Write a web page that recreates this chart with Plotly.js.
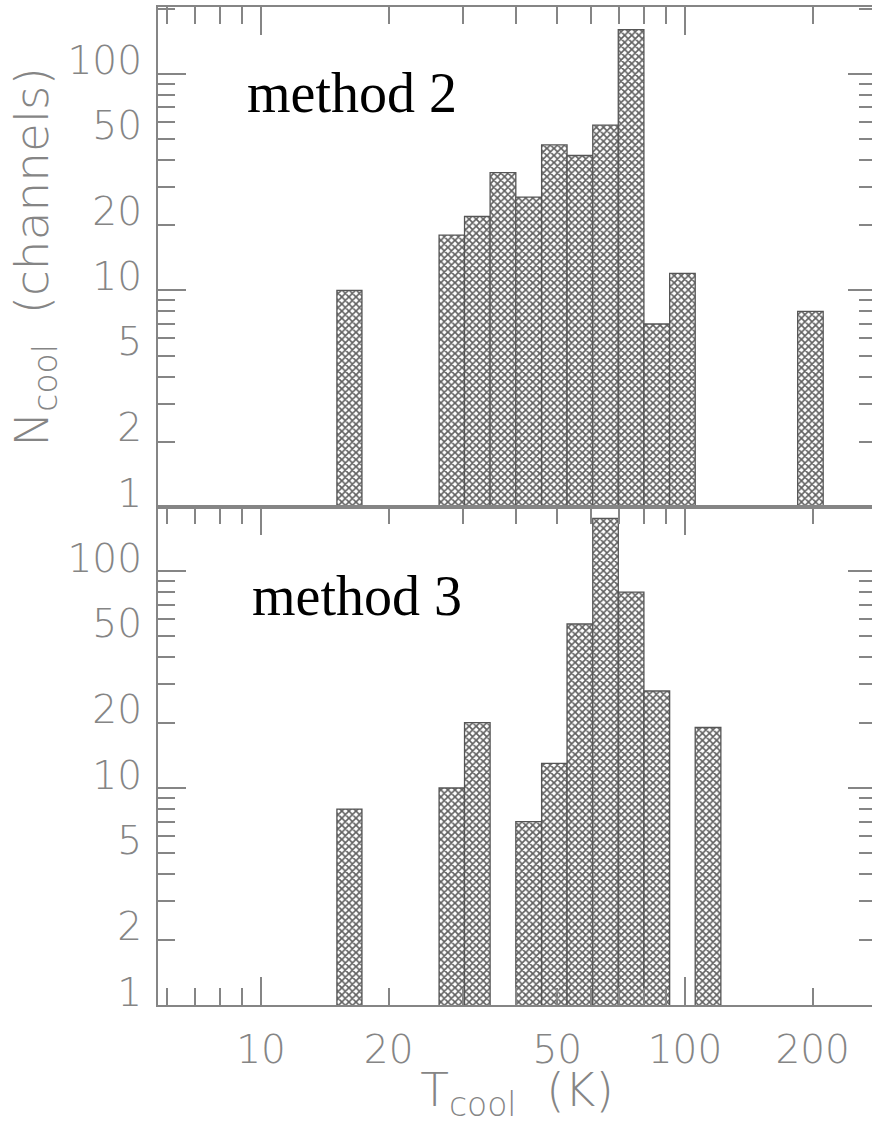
<!DOCTYPE html>
<html>
<head>
<meta charset="utf-8">
<script src="https://cdn.plot.ly/plotly-3.0.1.min.js"></script>
<style>
html,body{margin:0;padding:0;overflow:hidden;background:#fff;}
#chart{width:876px;height:1124px;}
</style>
</head>
<body>
<div id="chart"></div>
<script>
// Histogram bins (K): lower and upper edges, equal width in log T
const binLo = [15.1, 26.3, 30.2, 34.7, 39.9, 45.9, 52.7, 60.6, 69.6, 80.0, 92.0, 105.7, 184.4];
const binHi = [17.3, 30.2, 34.7, 39.9, 45.9, 52.7, 60.6, 69.6, 80.0, 92.0, 105.7, 121.5, 211.8];
// Number of channels per bin
const method2 = [10, 18, 22, 35, 27, 47, 42, 58, 160, 7, 12, null, 8];
const method3 = [8, 10, 20, null, 7, 13, 57, 175, 80, 28, null, 19, null];
// Panel labels
const panelLabels = ["method 2", "method 3"];
// Tick labels
const yTickVals = [1, 2, 5, 10, 20, 50, 100];
const xTickVals = [10, 20, 50, 100, 200];
const yMajor = [1, 10, 100];
const yMinor = [2, 3, 4, 5, 6, 7, 8, 9, 20, 30, 40, 50, 60, 70, 80, 90, 200];
const xMajor = [10, 100];
const xMinor = [6, 7, 8, 9, 20, 30, 40, 50, 60, 70, 80, 90, 200, 300];

const centers = binLo.map((lo, i) => (lo + binHi[i]) / 2);
const widths = binLo.map((lo, i) => binHi[i] - lo);

const GRAY = '#858585';
const barStyle = {
  color: '#ffffff',
  line: {color: '#555555', width: 1.3},
  pattern: {shape: 'x', fillmode: 'replace', fgcolor: '#606060', bgcolor: '#ffffff', size: 5, solidity: 0.55}
};

const traces = [
  {type: 'bar', x: centers, y: method2, width: widths, xaxis: 'x', yaxis: 'y', marker: barStyle, hoverinfo: 'x+y', showlegend: false},
  {type: 'bar', x: centers, y: method3, width: widths, xaxis: 'x2', yaxis: 'y2', marker: barStyle, hoverinfo: 'x+y', showlegend: false},
  {type: 'scatter', x: [], y: [], xaxis: 'x', yaxis: 'y3', hoverinfo: 'skip', showlegend: false},
  {type: 'scatter', x: [], y: [], xaxis: 'x2', yaxis: 'y4', hoverinfo: 'skip', showlegend: false},
  {type: 'scatter', x: [], y: [], xaxis: 'x3', yaxis: 'y2', hoverinfo: 'skip', showlegend: false}
];

const XR = [0.757, 2.4505];
const tickFont = {family: 'DejaVu Sans', size: 39, color: GRAY, weight: 200};
const titleFont = {family: 'DejaVu Sans', size: 47, color: GRAY, weight: 200};

function tickAxis(extra) {
  return Object.assign({
    type: 'log', showgrid: false, zeroline: false,
    showline: true, linecolor: GRAY, linewidth: 2,
    ticks: 'inside', ticklen: 28, tickwidth: 2, tickcolor: GRAY,
    tickmode: 'array', showticklabels: false,
    fixedrange: true
  }, extra);
}

const layout = {
  width: 876, height: 1124,
  margin: {l: 158, r: 0, t: 7, b: 119, pad: 0},
  paper_bgcolor: '#fff', plot_bgcolor: '#fff',
  showlegend: false,
  bargap: 0,
  xaxis: tickAxis({anchor: 'y', side: 'top', range: XR, tickvals: xMajor, mirror: true,
    minor: {tickmode: 'array', tickvals: xMinor, ticks: 'inside', ticklen: 17, tickwidth: 2, tickcolor: GRAY}}),
  yaxis: tickAxis({anchor: 'x', domain: [0.499, 1], range: [0, 2.309], tickvals: yMajor, mirror: 'ticks',
    minor: {tickmode: 'array', tickvals: yMinor, ticks: 'inside', ticklen: 17, tickwidth: 2, tickcolor: GRAY}}),
  yaxis3: {type: 'log', overlaying: 'y', anchor: 'x', side: 'left', range: [0, 2.309],
    showgrid: false, zeroline: false, showline: false, ticks: '',
    tickmode: 'array', tickvals: yTickVals, ticktext: yTickVals.map(String),
    tickfont: tickFont, ticklabelshift: -14, ticklabelstandoff: 15,
    title: {text: 'N<sub>cool</sub>\u00a0\u00a0(channels)', font: titleFont, standoff: 4}},
  xaxis2: tickAxis({anchor: 'y2', side: 'bottom', range: XR, tickvals: xMajor, mirror: 'ticks',
    minor: {tickmode: 'array', tickvals: xMinor, ticks: 'inside', ticklen: 17, tickwidth: 2, tickcolor: GRAY}}),
  yaxis2: tickAxis({anchor: 'x2', domain: [0, 0.499], range: [0, 2.295], tickvals: yMajor, mirror: 'ticks',
    minor: {tickmode: 'array', tickvals: yMinor, ticks: 'inside', ticklen: 17, tickwidth: 2, tickcolor: GRAY}}),
  yaxis4: {type: 'log', overlaying: 'y2', anchor: 'x2', side: 'left', range: [0, 2.295],
    showgrid: false, zeroline: false, showline: false, ticks: '',
    tickmode: 'array', tickvals: yTickVals, ticktext: yTickVals.map(String),
    tickfont: tickFont, ticklabelshift: -13, ticklabelstandoff: 15},
  xaxis3: {type: 'log', overlaying: 'x2', anchor: 'y2', side: 'bottom', range: XR,
    showgrid: false, zeroline: false, showline: false, ticks: '',
    tickmode: 'array', tickvals: xTickVals, ticktext: xTickVals.map(String),
    tickfont: tickFont, ticklabelstandoff: 18,
    title: {text: 'T<sub>cool</sub>\u00a0\u00a0(K)', font: titleFont, standoff: 6}},
  annotations: [
    {text: panelLabels[0], xref: 'paper', yref: 'paper', x: 0.1212, y: 0.914, xanchor: 'left', yanchor: 'middle',
     showarrow: false, font: {family: 'Liberation Serif', size: 56, color: '#000'}},
    {text: panelLabels[1], xref: 'paper', yref: 'paper', x: 0.1282, y: 0.410, xanchor: 'left', yanchor: 'middle',
     showarrow: false, font: {family: 'Liberation Serif', size: 56, color: '#000'}}
  ]
};

Plotly.newPlot('chart', traces, layout, {staticPlot: true, displayModeBar: false});
</script>
</body>
</html>
